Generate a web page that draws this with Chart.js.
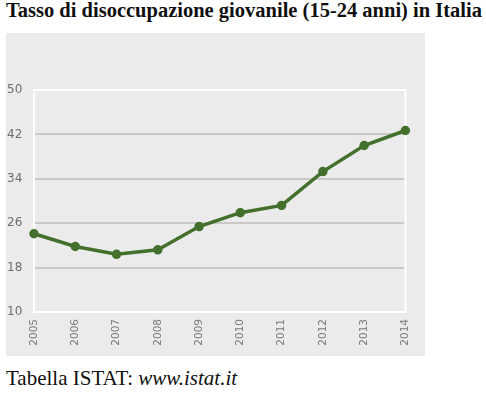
<!DOCTYPE html>
<html>
<head>
<meta charset="utf-8">
<script src="https://cdn.jsdelivr.net/npm/chart.js@4"></script>
<style>
  body { margin: 0; background: #fff; width: 486px; height: 393px; position: relative; overflow: hidden; }
  #title { position: absolute; left: 6px; top: -1px; font: bold 20.5px "Liberation Serif", "Times New Roman", "DejaVu Serif", serif; color: #111; white-space: nowrap; }
  #panel { position: absolute; left: 6px; top: 33px; width: 419px; height: 323px; background: #ebebeb; }
  #caption { position: absolute; left: 6px; top: 366px; font: 21px "Liberation Serif", "Times New Roman", "DejaVu Serif", serif; color: #111; white-space: nowrap; }
</style>
</head>
<body>
<div id="title">Tasso di disoccupazione giovanile (15-24 anni) in Italia</div>
<div id="panel"><canvas id="chart" width="419" height="323"></canvas></div>
<div id="caption">Tabella ISTAT: <i>www.istat.it</i></div>
<script>
var years = ['2005', '2006', '2007', '2008', '2009', '2010', '2011', '2012', '2013', '2014'];
var disoccupazione = [24.1, 21.8, 20.4, 21.2, 25.4, 27.9, 29.2, 35.3, 40.0, 42.7];
var yTicks = [10, 18, 26, 34, 42, 50];

document.addEventListener("DOMContentLoaded", function() {
    var frame = {
        id: 'frame',
        beforeDatasetsDraw: function(chart) {
            var a = chart.chartArea, c = chart.ctx;
            c.save();
            c.strokeStyle = '#ffffff';
            c.lineWidth = 2;
            c.strokeRect(a.left, a.top, a.right - a.left, a.bottom - a.top);
            c.restore();
        }
    };

    var ctx = document.getElementById("chart").getContext("2d");
    var chart = new Chart(ctx, {
        type: 'line',
        data: {
            labels: years,
            datasets: [{
                data: disoccupazione,
                borderColor: '#44702d',
                backgroundColor: '#44702d',
                borderWidth: 3.5,
                pointRadius: 3,
                pointHoverRadius: 3,
                tension: 0
            }]
        },
        options: {
            responsive: false,
            animation: false,
            layout: { padding: { top: 57, right: 12, left: 1, bottom: 0 } },
            plugins: { legend: { display: false }, tooltip: { enabled: false } },
            scales: {
                x: {
                    offset: false,
                    afterFit: function(s) { s.height = 44; },
                    grid: { display: false, drawTicks: false },
                    border: { display: false },
                    ticks: {
                        maxRotation: 90, minRotation: 90, padding: 7,
                        color: '#7a7a7a', font: { family: 'DejaVu Sans', size: 10.5 }
                    }
                },
                y: {
                    min: 10, max: 50,
                    afterFit: function(s) { s.width = 27; },
                    afterBuildTicks: function(s) { s.ticks = yTicks.map(function(v) { return { value: v }; }); },
                    grid: {
                        color: function(c) { return (c.tick.value === 10 || c.tick.value === 50) ? 'rgba(0,0,0,0)' : '#c9c9c9'; },
                        lineWidth: 2,
                        drawTicks: false
                    },
                    border: { display: false },
                    ticks: {
                        padding: 4,
                        crossAlign: 'far',
                        color: '#6e6e6e', font: { family: 'DejaVu Sans', size: 12 }
                    }
                }
            }
        },
        plugins: [frame]
    });
});
</script>
</body>
</html>
